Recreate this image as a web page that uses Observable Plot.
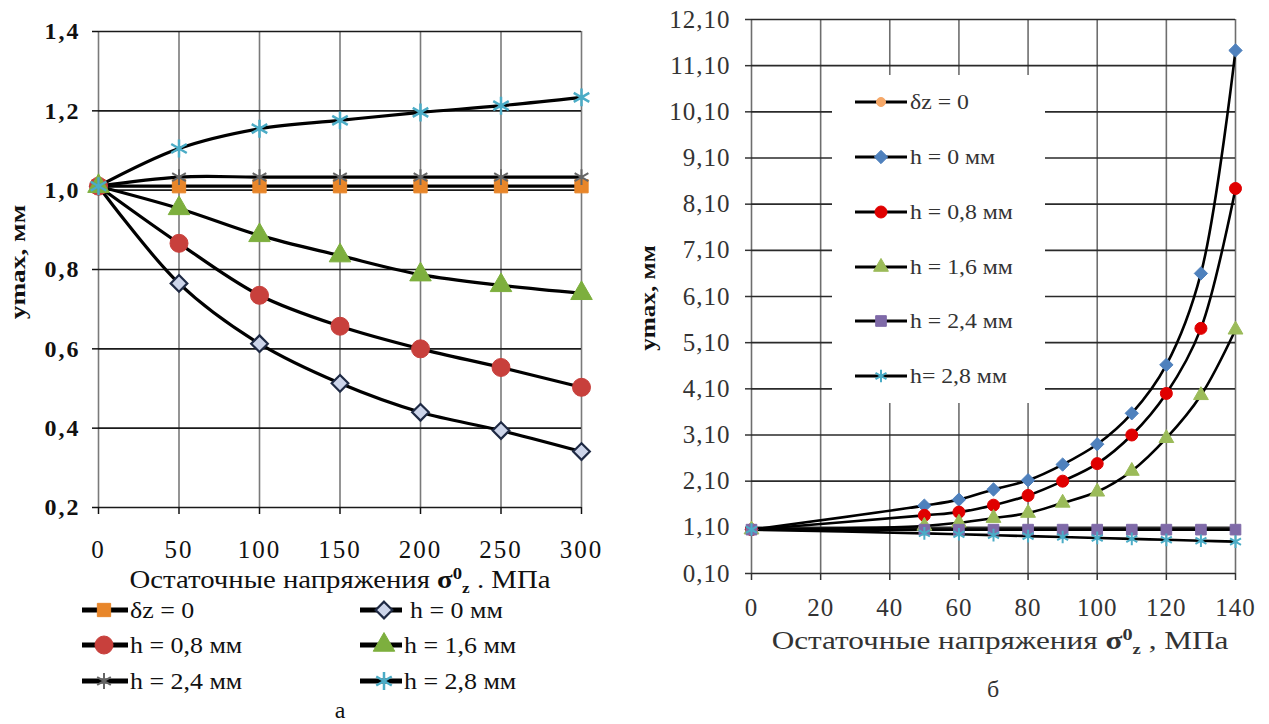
<!DOCTYPE html>
<html><head><meta charset="utf-8">
<script src="https://cdn.jsdelivr.net/npm/d3@7"></script>
<script src="https://cdn.jsdelivr.net/npm/@observablehq/plot@0.6"></script>
<style>
body{margin:0;background:#fff;}
#root{position:relative;width:1269px;height:724px;background:#fff;font-family:"Liberation Serif","DejaVu Serif",serif;color:#111;overflow:hidden}
.abs{position:absolute;white-space:nowrap}
.lbl{position:absolute;white-space:nowrap;line-height:1}
#pa g[aria-label="y-axis tick label"]{font-weight:bold;letter-spacing:2px}
#pa g[aria-label="x-axis tick label"]{letter-spacing:2px}
#pb g[aria-label="x-axis tick label"], #pb g[aria-label="y-axis tick label"]{letter-spacing:1px}
.sig{font-weight:bold}
.sup{font-size:0.65em;position:relative;top:-0.55em;font-weight:bold}
.sub{font-size:0.6em;position:relative;top:0.35em;font-weight:bold}
</style></head><body>
<div id="root">
<div id="pa" class="abs" style="left:0;top:0"></div>
<div id="pb" class="abs" style="left:640px;top:0"></div>
</div>
<script>
// ---------- Panel а data ----------
const xA = [0, 50, 100, 150, 200, 250, 300];
const xTicksA = [0, 50, 100, 150, 200, 250, 300];
const yTicksA = [0.2, 0.4, 0.6, 0.8, 1.0, 1.2, 1.4];
const aDz0 = [1.01, 1.01, 1.01, 1.01, 1.01, 1.01, 1.01];
const aH0  = [1.01, 0.765, 0.613, 0.513, 0.44, 0.394, 0.341];
const aH08 = [1.01, 0.866, 0.735, 0.657, 0.60, 0.553, 0.503];
const aH16 = [1.01, 0.954, 0.886, 0.835, 0.787, 0.76, 0.74];
const aH24 = [1.01, 1.033, 1.033, 1.033, 1.033, 1.033, 1.033];
const aH28 = [1.01, 1.105, 1.155, 1.176, 1.196, 1.213, 1.234];
const namesA = ["δz = 0", "h = 0 мм", "h = 0,8 мм", "h = 1,6 мм", "h = 2,4 мм", "h = 2,8 мм"];

// ---------- Panel б data ----------
const xB = [0, 50, 60, 70, 80, 90, 100, 110, 120, 130, 140];
const xTicksB = [0, 20, 40, 60, 80, 100, 120, 140];
const yTicksB = [0.1, 1.1, 2.1, 3.1, 4.1, 5.1, 6.1, 7.1, 8.1, 9.1, 10.1, 11.1, 12.1];
const bDz0 = [1.05, 1.05, 1.05, 1.05, 1.05, 1.05, 1.05, 1.05, 1.05, 1.05, 1.05];
const bH0  = [1.05, 1.57, 1.70, 1.92, 2.12, 2.46, 2.90, 3.57, 4.62, 6.60, 11.43];
const bH08 = [1.05, 1.36, 1.43, 1.58, 1.79, 2.10, 2.48, 3.10, 4.00, 5.41, 8.44];
const bH16 = [1.05, 1.13, 1.20, 1.30, 1.41, 1.63, 1.87, 2.32, 3.03, 3.96, 5.38];
const bH24 = [1.05, 1.05, 1.05, 1.05, 1.05, 1.05, 1.05, 1.05, 1.05, 1.05, 1.05];
const bH28 = [1.05, 0.97, 0.95, 0.93, 0.91, 0.89, 0.87, 0.85, 0.83, 0.81, 0.79];
const namesB = ["δz = 0", "h = 0 мм", "h = 0,8 мм", "h = 1,6 мм", "h = 2,4 мм", "h= 2,8 мм"];

// ---------- styles ----------
const styleA = [
  {sym:"square",   fill:"#E8862A", stroke:"#E8862A", sw:1,   r:7.5},
  {sym:"diamond2", fill:"#CDD5EA", stroke:"#1f2a44", sw:2.2, r:7.5},
  {sym:"circle",   fill:"#C8403C", stroke:"#C8403C", sw:1,   r:9},
  {sym:"triangle", fill:"#7DAF3E", stroke:"#7DAF3E", sw:1,   r:8},
  {sym:"asterisk", fill:"none",    stroke:"#666",    sw:2,   r:7.5},
  {sym:"asterisk", fill:"none",    stroke:"#4BACC6", sw:2.5, r:8.5}
];
const styleB = [
  {sym:"circle",   fill:"#F6A868", stroke:"#F6A868", sw:1,   r:4.5},
  {sym:"diamond2", fill:"#4F81BD", stroke:"#4F81BD", sw:1,   r:6},
  {sym:"circle",   fill:"#E00000", stroke:"#E00000", sw:1,   r:6},
  {sym:"triangle", fill:"#9BBB59", stroke:"#9BBB59", sw:1,   r:5.5},
  {sym:"square",   fill:"#7F6AA8", stroke:"#7F6AA8", sw:1,   r:6},
  {sym:"asterisk", fill:"none",    stroke:"#4BACC6", sw:2,   r:6}
];

const seriesA = [aDz0, aH0, aH08, aH16, aH24, aH28];
const seriesB = [bDz0, bH0, bH08, bH16, bH24, bH28];
const tidy = (xs, series, names) => series.flatMap((vals, k) => xs.map((x, i) => ({x, y: vals[i], key: names[k]})));
const rowsA = tidy(xA, seriesA, namesA);
const rowsB = tidy(xB, seriesB, namesB);
const comma = (d, n) => d.toFixed(n).replace(".", ",");

function seriesMarks(rows, names, styles, lw) {
  const m = [];
  m.push(Plot.line(rows, {x:"x", y:"y", z:"key", curve:"catmull-rom", stroke:"#000", strokeWidth:lw}));
  names.forEach((n, k) => {
    const s = styles[k];
    m.push(Plot.dot(rows.filter(d => d.key === n), {x:"x", y:"y", symbol:s.sym, r:s.r, fill:s.fill, stroke:s.stroke, strokeWidth:s.sw}));
  });
  return m;
}

const plotA = Plot.plot({
  width: 640, height: 575,
  marginLeft: 98, marginRight: 59, marginTop: 31, marginBottom: 68,
  x: {domain: [0, 300]},
  y: {domain: [0.2, 1.4]},
  style: {fontFamily: "Liberation Serif", background: "transparent", color: "#111", overflow: "visible"},
  marks: [
    Plot.gridX(xTicksA, {stroke:"#7a7a7a", strokeOpacity:1, strokeWidth:1.6}),
    Plot.gridY(yTicksA, {stroke:"#1a1a1a", strokeOpacity:1, strokeWidth:1.6}),
    Plot.axisX(xTicksA, {tickSize:7, tickPadding:26, fontSize:25, label:null, strokeWidth:1.5}),
    Plot.axisY(yTicksA, {tickSize:6, tickPadding:12, fontSize:24, label:null, strokeWidth:1.5, tickFormat: d => comma(d, 1)}),
    ...seriesMarks(rowsA, namesA, styleA, 3.2)
  ]
});
document.getElementById("pa").appendChild(plotA);

const plotB = Plot.plot({
  width: 629, height: 625,
  marginLeft: 111, marginRight: 34, marginTop: 19, marginBottom: 52,
  x: {domain: [0, 140]},
  y: {domain: [0.1, 12.1]},
  style: {fontFamily: "Liberation Serif", background: "transparent", color: "#333", overflow: "visible"},
  marks: [
    Plot.gridX(xTicksB, {stroke:"#6e6e6e", strokeOpacity:1, strokeWidth:1.6}),
    Plot.gridY(yTicksB, {stroke:"#2a2a2a", strokeOpacity:1, strokeWidth:1.6}),
    Plot.axisX(xTicksB, {tickSize:7, tickPadding:18, fontSize:25, label:null, strokeWidth:1.5}),
    Plot.axisY(yTicksB, {tickSize:6, tickPadding:15, fontSize:25, label:null, strokeWidth:1.5, tickFormat: d => comma(d, 2)}),
    ...seriesMarks(rowsB, namesB, styleB, 2.6)
  ]
});
document.getElementById("pb").appendChild(plotB);

const root = document.getElementById("root");
function addText(html, x, y, opts = {}) {
  const el = document.createElement("div");
  el.className = "lbl";
  el.innerHTML = html;
  el.style.left = x + "px";
  el.style.top = y + "px";
  el.style.fontSize = (opts.size || 22) + "px";
  if (opts.color) el.style.color = opts.color;
  if (opts.weight) el.style.fontWeight = opts.weight;
  const sx = opts.sx || 1;
  if (opts.rotate) el.style.transform = `translate(-50%,-50%) rotate(-90deg) scaleX(${sx})`;
  else if (opts.center) el.style.transform = `translate(-50%,-50%) scaleX(${sx})`;
  else { el.style.transform = `translateY(-50%) scaleX(${sx})`; el.style.transformOrigin = "left center"; }
  root.appendChild(el);
  return el;
}
const symMap = {square:d3.symbolSquare, diamond2:d3.symbolDiamond2, circle:d3.symbolCircle, triangle:d3.symbolTriangle, asterisk:d3.symbolAsterisk};
function addLegendItem(it, s, label, size, color, sx) {
  const svg = d3.select(root).append("svg").attr("class","abs")
    .style("left", it.x1 + "px").style("top", (it.y - 15) + "px")
    .attr("width", it.x2 - it.x1).attr("height", 30).style("overflow","visible");
  svg.append("line").attr("x1",0).attr("x2",it.x2 - it.x1).attr("y1",15).attr("y2",15)
    .attr("stroke","#000").attr("stroke-width",it.lw);
  svg.append("path").attr("d", d3.symbol(symMap[s.sym], Math.PI * s.r * s.r)())
    .attr("transform", `translate(${it.mx - it.x1},15)`)
    .attr("fill", s.fill).attr("stroke", s.stroke).attr("stroke-width", s.sw);
  addText(label, it.tx, it.y, {size, color, sx});
}

// Panel а texts
addText("уmax, мм", 18, 262, {size:21, weight:"bold", rotate:true, sx:1.3});
addText('Остаточные напряжения <span class="sig">σ</span><span class="sup">0</span><span class="sub">z</span> . МПа', 340, 579, {size:25, center:true, sx:1.15});
const rowsYA = [610, 645, 681];
const colA = [{x1:82, x2:128, mx:104, tx:130}, {x1:360, x2:402, mx:384, tx:404}];
namesA.forEach((n, k) => {
  const c = colA[k % 2], y = rowsYA[Math.floor(k / 2)];
  addLegendItem({x1:c.x1, x2:c.x2, mx:c.mx, tx:(k===1?c.tx+6:c.tx), y, lw:5}, styleA[k], n, 24, null, 1.08);
});
addText("а", 340, 710, {size:24, center:true});

// Panel б texts
addText("уmax, мм", 648, 298, {size:21, weight:"bold", rotate:true, sx:1.2});
addText('Остаточные напряжения <span class="sig">σ</span><span class="sup">0</span><span class="sub">z</span> , МПа', 1000, 641, {size:26, center:true, color:"#333", sx:1.2});
addText("б", 993, 689, {size:24, center:true, color:"#333"});
// legend box (white, covers grid)
const box = document.createElement("div");
box.className = "abs";
Object.assign(box.style, {left:"832px", top:"75px", width:"213px", height:"328px", background:"#fff"});
root.appendChild(box);
const rowsYB = [102, 157, 212, 267, 321, 376];
namesB.forEach((n, k) => {
  addLegendItem({x1:855, x2:907, mx:881, tx:910, y:rowsYB[k], lw:3}, styleB[k], n, 22, "#333", 1.08);
});
</script>
</body></html>
